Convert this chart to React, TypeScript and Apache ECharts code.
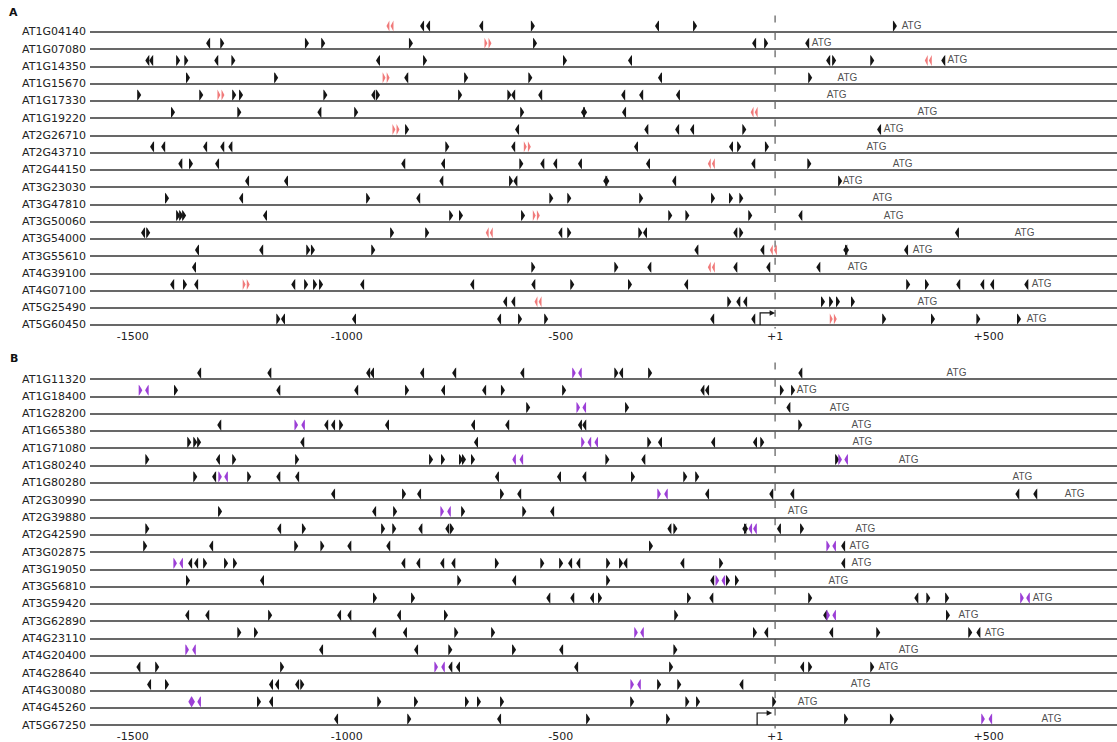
import React, { useEffect, useRef } from "react";
import * as echarts from "echarts";

// ---------------- Panel A data (positions in bp relative to TSS) ----------------
const GENES_A = [
  "AT1G04140", "AT1G07080", "AT1G14350", "AT1G15670", "AT1G17330", "AT1G19220",
  "AT2G26710", "AT2G43710", "AT2G44150", "AT3G23030", "AT3G47810", "AT3G50060",
  "AT3G54000", "AT3G55610", "AT4G39100", "AT4G07100", "AT5G25490", "AT5G60450",
];
const LEFT_A: number[][] = [
  [-824, -810, -686, -275],
  [-1324, -48, 76],
  [-1466, -1457, -1305, -927, -338, 125, 394],
  [-861, -268],
  [-938, -611, -548, -354, -312, -226],
  [-1064, -448, -352],
  [-602, -300, -228, -193, 244],
  [-1455, -1429, -1331, -1291, -1272, -611, -324, -102],
  [-1389, -1303, -868, -775, -543, -513, -455, -296, -50],
  [-1233, -1142, -779, -606, -396, -235],
  [-1247, -833],
  [-1191, 60],
  [-1476, -501, -303, -92, 426],
  [-1350, -1200, -183, -29, 165, 307],
  [-1357, -293, -92, -15, 102],
  [-1408, -1352, -1125, -964, -707, -564, -207, 429, 485, 508, 588],
  [-630, -611, -85, -69],
  [-1149, -983, -644, -146, -50],
];
const RIGHT_A: number[][] = [
  [-565, -186, 281],
  [-1291, -1093, -1055, -850, -560, -20],
  [-1394, -1375, -1265, -817, -490, 139, 228],
  [-1371, -1165, -721, -571, 83],
  [-1485, -1340, -1263, -1247, -1050, -927, -735, -620],
  [-1406, -1251, -978, -590, -443],
  [-859, -71],
  [-765, -83, -18],
  [-1364, -592, 81],
  [-616, -391, 153],
  [-1420, -950, -522, -480, -312, -144, -102, -78],
  [-1394, -1387, -1380, -756, -733, -588, -244, -204, -57],
  [-1464, -894, -812, -480, -314, -78],
  [-1090, -1079, -938, 169],
  [-564, -370],
  [-1378, -1095, -1074, -1060, -473, -338, 312, 356],
  [-106, 113, 132, 148, 183],
  [-1160, -595, -534, 256, 370, 476, 571],
];
const PINK_LEFT_PAIRS_A: number[][] = [
  [-899], [], [359], [], [], [-48], [], [], [-148], [], [], [], [-667], [-3], [-148], [], [-553], [],
];
const PINK_RIGHT_PAIRS_A: number[][] = [
  [], [-670], [], [-908], [-1294], [], [-885], [-578], [], [], [], [-557], [], [], [], [-1235], [], [137],
];
const ATG_A = [298, 88, 405, 148, 123, 335, 256, 216, 277, 160, 230, 256, 562, 324, 172, 602, 335, 590];
const TSS_A = [[-34, 1, 17]];

// ---------------- Panel B data ----------------
const GENES_B = [
  "AT1G11320", "AT1G18400", "AT1G28200", "AT1G65380", "AT1G71080", "AT1G80240",
  "AT1G80280", "AT2G30990", "AT2G39880", "AT2G42590", "AT3G02875", "AT3G19050",
  "AT3G56810", "AT3G59420", "AT3G62890", "AT4G23110", "AT4G20400", "AT4G28640",
  "AT4G30080", "AT4G45260", "AT5G67250",
];
const LEFT_B: number[][] = [
  [-1345, -1181, -950, -941, -824, -749, -590, -359, 60],
  [-1160, -978, -775, -679, -169, -158],
  [32],
  [-1298, -1048, -1032, -906, -705, -625, -455, -445],
  [-1104, -698, -268, -144, -46],
  [-1301, -307],
  [-1310, -1160, -1116, -649, -504, -445],
  [-1032, -831, -597, -158, -8, 41, 567, 609],
  [-936, -520],
  [-1158, -828, -765, -246, -71, 10],
  [-1317, -994, -903, 160],
  [-1366, -1352, -868, -833, -777, -751, -478, -459, -349, -216, 160],
  [-1198, -609, -146],
  [-529, -473, -427, -148, 331],
  [-1373, -1326, -1018, -994, -878, 118],
  [-936, -864, -20, 132, 476],
  [-1060, -838, -499],
  [-1487, -758, -740, -464, 64],
  [-1462, -1177, -1163, -1116, -78],
  [-1177],
  [-1025, -644],
];
const RIGHT_B: number[][] = [
  [-370, -291],
  [-1399, -859, -635, -492, 17, 43],
  [-576, -345],
  [-1013, 60],
  [-1368, -1354, -1345, -293, -29],
  [-1466, -1263, -1116, -803, -775, -733, -726, -705, -391, 146],
  [-1354, -1228, -331, -209, -181],
  [-866, -637],
  [-1296, -887, -728, -585],
  [-1466, -1100, -915, -889, -754, -232, -67, 64],
  [-1471, -1118, -1057, -289],
  [-1331, -1282, -1261, -649, -543, -499, -389, -359, -125],
  [-1371, -737, -389, -109, -88],
  [-934, -845, -408, -200, 83, 359, 403],
  [-1179, -768, -230, 405],
  [-1251, -1212, -744, -658, -46, 242, 457],
  [-758, -609, -232],
  [-1443, -1151, -242, 83, 228],
  [-1420, -1104, -270, -223],
  [-1205, -924, -838, -719, -691, -637, -333, -204, -179, -1],
  [-854, -436, -249, 167, 274],
];
const PURPLE_LEFT_B: number[][] = [
  [-455], [-1467], [-445], [-1102], [-433, -417], [-609, -592, 167], [-1282], [-254], [-761],
  [-57, -46], [139], [-1387], [-120], [592], [139], [-310], [-1357], [-775], [-317],
  [-1366, -1345], [504],
];
const PURPLE_RIGHT_B: number[][] = [
  [-469], [-1482], [-459], [-1118], [-448], [153], [-1296], [-270], [-777],
  [], [125], [-1401], [-134], [578], [125], [-324], [-1373], [-791], [-333],
  [-1359], [487],
];
const ATG_B = [403, 53, 130, 181, 183, 291, 557, 679, 32, 190, 176, 181, 127, 604, 431, 492, 291, 244, 179, 55, 625];
const TSS_B = [[-41, -6, 20]];

// ---------------- axis ----------------
const X_TICKS = [-1500, -1000, -500, 1, 500];
const X_MIN = -1600;
const X_MAX = 800;
const TSS_POS = 1;

const LEFT_SYM = "path://M0,5.5 C1.2,3.5 2.6,1.2 4,0 L4,11 C2.6,9.8 1.2,7.5 0,5.5 Z";
const RIGHT_SYM = "path://M4,5.5 C2.8,3.5 1.4,1.2 0,0 L0,11 C1.4,9.8 2.8,7.5 4,5.5 Z";
const PAIR_LEFT_SYM = "path://M0,5.5 L3,0 L3,11 Z M4.2,5.5 L7.2,0 L7.2,11 Z";
const PAIR_RIGHT_SYM = "path://M3,5.5 L0,0 L0,11 Z M7.2,5.5 L4.2,0 L4.2,11 Z";

const BLACK = "#151515";
const PINK = "#f07b7b";
const PURPLE = "#9c3fd6";
const LINE = "#363636";
const FONT = "DejaVu Sans";

function pts(rows: number[][]) {
  return rows.flatMap((row, i) => row.map((x) => [x, i]));
}

function markerSeries(idx: number, name: string, rows: number[][], symbol: string, color: string, w: number) {
  return {
    type: "scatter",
    name,
    xAxisIndex: idx,
    yAxisIndex: idx,
    data: pts(rows),
    symbol,
    symbolSize: [w, 11],
    symbolOffset: [0, -6],
    itemStyle: { color, opacity: 1 },
    silent: true,
    z: 5,
  };
}

function panelSeries(idx: number, genes: string[], left: number[][], right: number[][],
  colL: number[][], colR: number[][], colColor: string, paired: boolean, atg: number[], tss: number[][]) {
  const n = genes.length;
  return [
    {
      ...markerSeries(idx, "left" + idx, left, LEFT_SYM, BLACK, 4),
      markLine: {
        silent: true,
        symbol: ["none", "none"],
        label: { show: false },
        animation: false,
        lineStyle: { color: LINE, width: 1.5, type: "solid" },
        data: genes.map((_, i) => ({ yAxis: i })),
      },
    },
    markerSeries(idx, "right" + idx, right, RIGHT_SYM, BLACK, 4),
    paired
      ? markerSeries(idx, "colL" + idx, colL, PAIR_LEFT_SYM, colColor, 7)
      : markerSeries(idx, "colL" + idx, colL, LEFT_SYM, colColor, 3.6),
    paired
      ? markerSeries(idx, "colR" + idx, colR, PAIR_RIGHT_SYM, colColor, 7)
      : markerSeries(idx, "colR" + idx, colR, RIGHT_SYM, colColor, 3.6),
    {
      type: "custom",
      xAxisIndex: idx,
      yAxisIndex: idx,
      data: [[TSS_POS, -0.95, n - 0.8]],
      encode: { x: 0, y: [1, 2] },
      silent: true,
      z: 4,
      renderItem: (_p: any, api: any) => {
        const a = api.coord([api.value(0), api.value(1)]);
        const b = api.coord([api.value(0), api.value(2)]);
        return {
          type: "line",
          shape: { x1: a[0], y1: a[1], x2: b[0], y2: b[1] },
          style: { stroke: "#666", lineWidth: 1.3, lineDash: [7, 10.3] },
        };
      },
    },
    {
      type: "scatter",
      xAxisIndex: idx,
      yAxisIndex: idx,
      data: atg.map((x, i) => [x, i]),
      symbol: "circle",
      symbolSize: 1,
      itemStyle: { color: "rgba(0,0,0,0)" },
      silent: true,
      label: {
        show: true,
        formatter: "ATG",
        position: [0, -6],
        align: "left",
        verticalAlign: "middle",
        fontFamily: "Liberation Sans",
        fontSize: 10,
        color: "#222",
      },
      z: 6,
    },
    {
      type: "custom",
      xAxisIndex: idx,
      yAxisIndex: idx,
      data: tss,
      encode: { x: [0, 1], y: 2 },
      silent: true,
      z: 6,
      renderItem: (_p: any, api: any) => {
        const a = api.coord([api.value(0), api.value(2)]);
        const b = api.coord([api.value(1), api.value(2)]);
        const h = 12;
        return {
          type: "group",
          children: [
            {
              type: "polyline",
              shape: { points: [[a[0], a[1]], [a[0], a[1] - h], [b[0] - 4, a[1] - h]] },
              style: { stroke: BLACK, lineWidth: 1.2, fill: null },
            },
            {
              type: "polygon",
              shape: { points: [[b[0], a[1] - h], [b[0] - 5.5, a[1] - h - 2.8], [b[0] - 5.5, a[1] - h + 2.8]] },
              style: { fill: BLACK },
            },
          ],
        };
      },
    },
  ];
}

function xAxis(idx: number) {
  return {
    type: "value",
    gridIndex: idx,
    min: X_MIN,
    max: X_MAX,
    axisLine: { show: false, onZero: false },
    splitLine: { show: false },
    axisTick: { show: false },
    axisLabel: {
      customValues: X_TICKS,
      margin: 6,
      fontFamily: FONT,
      fontSize: 11,
      color: "#222",
      formatter: (v: number) => (v > 0 ? "+" + v : String(v)),
    },
  };
}

function yAxis(idx: number, genes: string[]) {
  return {
    type: "value",
    gridIndex: idx,
    min: -1,
    max: genes.length - 1,
    interval: 1,
    inverse: true,
    axisLine: { show: false, onZero: false },
    axisTick: { show: false },
    splitLine: { show: false },
    axisLabel: {
      showMinLabel: true,
      showMaxLabel: true,
      margin: 4,
      fontFamily: FONT,
      fontSize: 11,
      color: "#222",
      formatter: (v: number) => genes[v] ?? "",
    },
  };
}

export default function App() {
  const ref = useRef<HTMLDivElement>(null);
  useEffect(() => {
    if (!ref.current) return;
    const chart = echarts.init(ref.current, null, { renderer: "svg" });
    const option = {
      animation: false,
      backgroundColor: "#fff",
      textStyle: { fontFamily: FONT },
      grid: [
        { left: 90, width: 1027, top: 14.76, height: 310.2 },
        { left: 90, width: 1027, top: 361.7, height: 363.3 },
      ],
      xAxis: [xAxis(0), xAxis(1)],
      yAxis: [yAxis(0, GENES_A), yAxis(1, GENES_B)],
      graphic: [
        { type: "text", left: 9, top: 7, style: { text: "A", font: "bold 11px DejaVu Sans", fill: "#111" } },
        { type: "text", left: 10, top: 353, style: { text: "B", font: "bold 11px DejaVu Sans", fill: "#111" } },
      ],
      series: [
        ...panelSeries(0, GENES_A, LEFT_A, RIGHT_A, PINK_LEFT_PAIRS_A, PINK_RIGHT_PAIRS_A, PINK, true, ATG_A, TSS_A),
        ...panelSeries(1, GENES_B, LEFT_B, RIGHT_B, PURPLE_LEFT_B, PURPLE_RIGHT_B, PURPLE, false, ATG_B, TSS_B),
      ],
    };
    chart.setOption(option as any);
    return () => chart.dispose();
  }, []);
  return (
    <div
      ref={ref}
      style={{ position: "absolute", left: 0, top: 0, width: 1117, height: 742, background: "#fff" }}
    />
  );
}
